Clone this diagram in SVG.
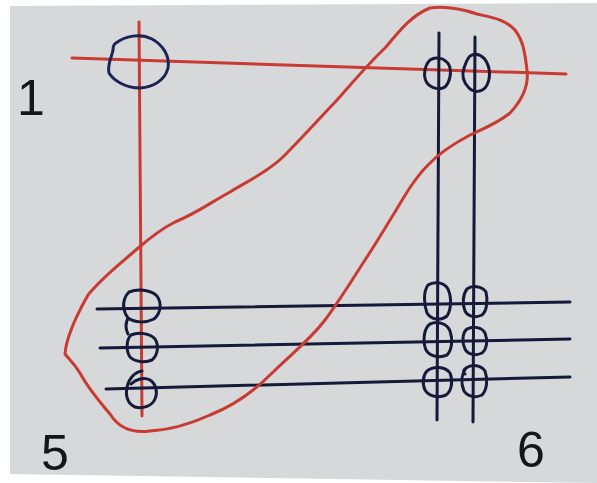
<svg xmlns="http://www.w3.org/2000/svg" width="597" height="483" viewBox="0 0 597 483">
<style>
.red{fill:none;stroke:#c83a32;stroke-width:3;stroke-linecap:round;stroke-linejoin:round}
.ink{fill:none;stroke:#15193a;stroke-width:3;stroke-linecap:round;stroke-linejoin:round}
.lbl{font-family:"Liberation Sans",Arial,sans-serif;font-size:50px;fill:#15151a}
</style>
<rect x="0" y="0" width="597" height="483" fill="#ffffff"/>
<polygon points="10,6 597,3 597,483 10,474" fill="#d6d8da"/>
<g id="connectors">
<line class="red" x1="72" y1="58" x2="566" y2="74"/>
<line class="red" x1="139" y1="22" x2="142" y2="416"/>
<line class="ink" x1="439" y1="33" x2="437" y2="420"/>
<line class="ink" x1="475" y1="37" x2="473" y2="422"/>
<line class="ink" x1="97" y1="309" x2="570" y2="302"/>
<line class="ink" x1="100" y1="348" x2="570" y2="339"/>
<line class="ink" x1="106" y1="389" x2="570" y2="377"/>
</g>
<g id="lasso">
<path class="red" d="M430,8 C445,6 462,9 477,14 C490,17 505,19 515,30 C524,42 525,55 527,70 C529,85 522,100 510,113 C498,123 485,128 470,135 C455,143 440,152 428,165 C415,178 405,195 395,212 C385,228 375,245 365,260 C352,280 340,300 325,320 C310,340 290,355 270,375 C255,390 235,405 210,415 C190,424 170,430 150,431 C135,433 120,430 110,414 C98,400 88,388 80,373 C74,363 68,358 65,354 C66,340 75,318 88,295 C100,280 115,268 130,255 C142,245 155,232 175,222 C195,214 210,203 230,192 C250,180 270,170 285,155 C300,140 320,118 337,100 C352,83 370,62 385,48 C400,30 412,15 430,8 Z"/>
</g>
<g id="node-top-left">
<path class="ink" style="stroke:#1c2456" d="M116,43 C125,36 140,33 152,39 C163,45 170,56 168,68 C165,80 154,87 140,88 C126,88 114,81 109,73 C107,64 112,57 113,50 C113,46 114,44 116,43"/>
</g>
<g id="node-top-a">
<path class="ink" d="M430,60 C436,56 445,58 449,65 C452,72 450,82 445,87 C440,90 432,89 427,83 C423,77 424,66 430,60 Z"/>
</g>
<g id="node-top-b">
<path class="ink" d="M470,56 C477,52 484,56 487,63 C491,71 490,82 485,88 C481,92 474,93 469,88 C464,83 461,77 464,68 C466,62 468,58 470,56 Z"/>
</g>
<g id="node-left-1">
<path class="ink" d="M129,292 C137,289 150,289 157,296 C162,303 161,313 154,319 C146,323 135,323 128,318 C124,313 122,305 125,298 C126,295 128,293 129,292 M128,318 C125,324 126,330 128,334"/>
</g>
<g id="node-left-2">
<path class="ink" d="M131,335 C138,332 150,333 155,339 C159,345 158,355 152,360 C145,363 135,362 130,357 C126,351 126,340 131,335 Z"/>
</g>
<g id="node-left-3">
<path class="ink" d="M142,371 C135,372 129,378 127,387 C125,396 128,404 135,407 C143,409 152,406 155,399 C158,392 156,384 150,380 C144,377 136,379 131,384"/>
</g>
<g id="node-right-a1">
<path class="ink" d="M428,285 C434,281 444,282 448,289 C452,298 451,310 447,316 C441,321 431,320 427,313 C424,305 423,292 428,285 Z"/>
</g>
<g id="node-right-a2">
<path class="ink" d="M430,324 C437,321 447,323 450,331 C453,339 452,350 447,355 C440,358 430,357 426,350 C423,343 423,329 430,324 Z"/>
</g>
<g id="node-right-a3">
<path class="ink" d="M427,371 C433,366 445,366 450,373 C453,380 452,391 446,395 C439,398 429,397 425,390 C422,384 423,375 427,371 Z"/>
</g>
<g id="node-right-b1">
<path class="ink" d="M467,289 C472,285 482,286 486,292 C488,300 487,311 482,315 C476,318 468,317 465,311 C462,304 463,294 467,289 Z"/>
</g>
<g id="node-right-b2">
<path class="ink" d="M467,329 C473,326 482,327 485,333 C488,340 487,349 482,353 C476,356 468,355 465,349 C462,343 462,333 467,329 Z"/>
</g>
<g id="node-right-b3">
<path class="ink" d="M466,368 C472,364 481,365 485,371 C488,379 487,390 482,395 C476,398 468,397 464,391 C461,384 461,375 466,368 M466,368 C463,370 463,373 465,374"/>
</g>
<g id="labels">
<text class="lbl" x="17" y="115">1</text>
<text class="lbl" x="41" y="470">5</text>
<text class="lbl" x="517" y="467">6</text>
</g>
</svg>
